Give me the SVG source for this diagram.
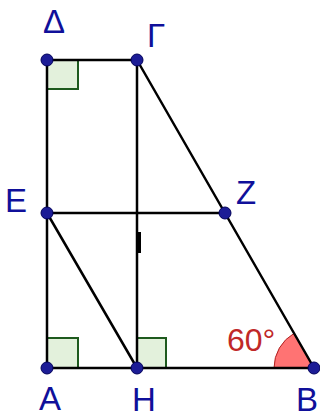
<svg xmlns="http://www.w3.org/2000/svg" width="320" height="419" viewBox="0 0 320 419">
<style>
.ln{stroke:#000;stroke-width:2.5;fill:none;stroke-linecap:round}
.sq{fill:#e3f1dc;stroke:#1e5a1e;stroke-width:2}
.pt{fill:#1c1c96;stroke:#00005a;stroke-width:1}
.lb{font-family:"Liberation Sans",Arial,sans-serif;font-size:33px;fill:#10109a}
.ang{font-family:"Liberation Sans",Arial,sans-serif;font-size:32px;fill:#c02828}
</style>
<rect width="320" height="419" fill="#fff"/>
<g id="angles">
<rect class="sq" x="47" y="60" width="31" height="29"/>
<rect class="sq" x="47" y="338" width="31" height="30"/>
<rect class="sq" x="137" y="338" width="29" height="30"/>
<path d="M314,368 L274,368 A40,40 0 0 1 294,333.4 Z" fill="#ff7373" stroke="#b02020" stroke-width="1"/>
</g>
<g id="connectors">
<line class="ln" x1="47" y1="60" x2="137" y2="60"/>
<line class="ln" x1="47" y1="60" x2="47" y2="368"/>
<line class="ln" x1="137" y1="60" x2="137" y2="368"/>
<line class="ln" x1="47" y1="368" x2="314" y2="368"/>
<line class="ln" x1="137" y1="60" x2="314" y2="368"/>
<line class="ln" x1="47" y1="213" x2="225" y2="213"/>
<line class="ln" x1="47" y1="213" x2="137" y2="368"/>
<line x1="139.5" y1="232" x2="139.5" y2="253" stroke="#000" stroke-width="3"/>
</g>
<g id="node-Delta"><circle class="pt" cx="47" cy="60" r="6"/><text class="lb" x="54" y="33" text-anchor="middle">Δ</text></g>
<g id="node-Gamma"><circle class="pt" cx="137" cy="60" r="6"/><text class="lb" x="147" y="47">Γ</text></g>
<g id="node-E"><circle class="pt" cx="47" cy="213" r="6"/><text class="lb" x="5" y="212">E</text></g>
<g id="node-Z"><circle class="pt" cx="225" cy="213" r="6"/><text class="lb" x="236" y="204">Z</text></g>
<g id="node-A"><circle class="pt" cx="47" cy="368" r="6"/><text class="lb" x="50" y="410" text-anchor="middle">A</text></g>
<g id="node-H"><circle class="pt" cx="137" cy="368" r="6"/><text class="lb" x="132" y="411">H</text></g>
<g id="node-B"><circle class="pt" cx="314" cy="368" r="6"/><text class="lb" x="296" y="411">B</text></g>
<g id="angle-label"><text class="ang" x="227" y="351">60°</text></g>
</svg>
